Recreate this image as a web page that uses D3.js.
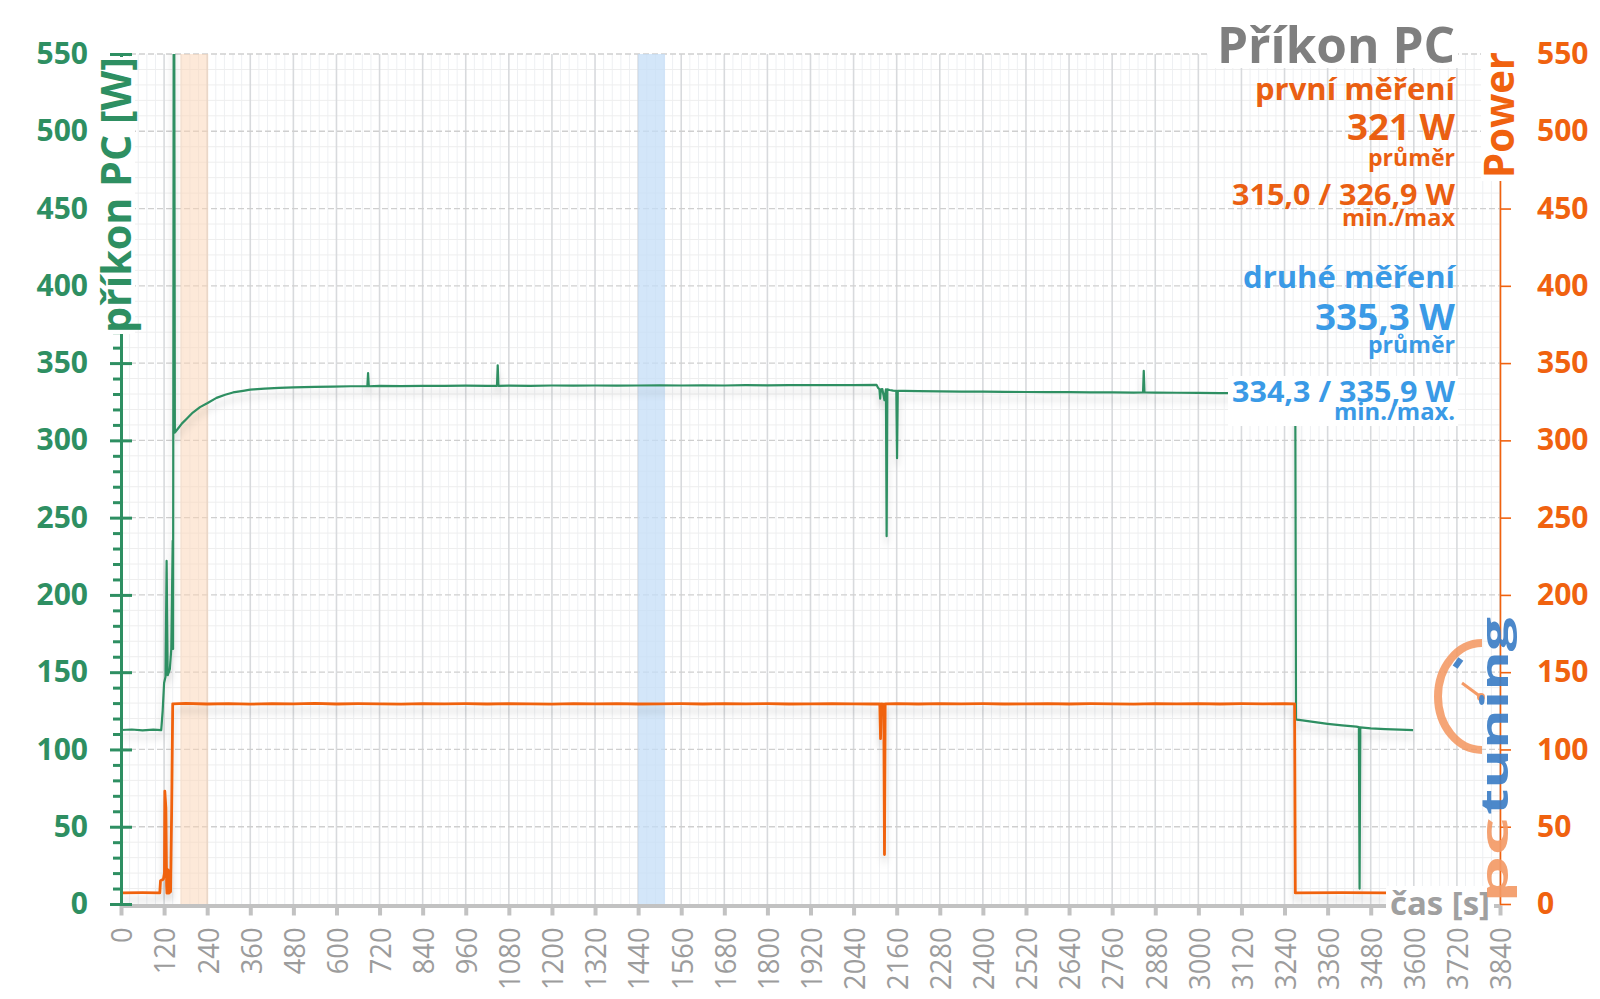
<!DOCTYPE html>
<html><head><meta charset="utf-8">
<script src="https://cdn.jsdelivr.net/npm/d3@7"></script>
<style>html,body{margin:0;padding:0;background:#fff;}svg{display:block;font-family:"Open Sans",sans-serif;}</style>
</head><body><svg id="c" width="1600" height="999"></svg>
<script>
// ---------------- data ----------------
const xTickLabels = ["0","120","240","360","480","600","720","840","960","1080","1200","1320","1440","1560","1680","1800","1920","2040","2160","2280","2400","2520","2640","2760","2880","3000","3120","3240","3360","3480","3600","3720","3840"];
const yTickValues = [0,50,100,150,200,250,300,350,400,450,500,550];

// příkon PC [W] (left axis), [time s, watts]
const greenPoints = [
 [0,112.6],[30,112.9],[60,112.4],[90,112.8],[112,112.5],[116,125],[120,143],[124,147],[127,222],[130,148],
 [136,152],[140,165],[144,235],[145,165],[147,620],[148,620],[150,305],[160,308],[170,311],[183,314],
 [200,318],[220,321.5],[240,324],[266,327.5],[290,329.5],[312,331],[340,332],[360,332.8],[400,333.5],[440,334],
 [480,334.3],[540,334.6],[590,334.8],[640,335],[686,335],[688,343.5],[690,335],[720,335.2],[780,335.1],[840,335.3],
 [900,335.2],[960,335.4],[1020,335.3],[1047,335.3],[1049,348.5],[1051,335.3],[1080,335.4],[1140,335.3],[1200,335.5],[1260,335.4],
 [1320,335.5],[1380,335.4],[1440,335.5],[1500,335.6],[1560,335.5],[1620,335.6],[1680,335.5],[1740,335.7],[1800,335.6],[1860,335.8],
 [1920,335.7],[1980,335.8],[2040,335.8],[2104,335.9],[2108,334],[2112,333],[2114,327],[2116,333],[2120,333.2],[2126,326],
 [2130,333],[2132,238],[2134,333],[2140,332.6],[2150,332.2],[2159,332],[2161,288.5],[2163,332],[2180,332],[2220,331.8],
 [2280,331.7],[2340,331.6],[2400,331.5],[2460,331.4],[2520,331.3],[2580,331.2],[2640,331.2],[2700,331.1],[2760,331],[2820,330.9],
 [2846,331],[2848,345],[2850,331],[2880,330.9],[2940,330.8],[3000,330.7],[3060,330.6],[3120,330.6],[3180,330.5],[3240,330.5],
 [3268,330.4],[3270,323],[3272,120],[3274,119.3],[3290,118.8],[3320,117.8],[3360,116.6],[3400,115.6],[3440,114.8],[3447,114.5],
 [3449,10],[3451,114.3],[3480,113.6],[3520,113.2],[3560,112.8],[3598,112.5]
];

// Power (right axis), [time s, watts]
const orangePoints = [
 [0,7.2],[60,7.3],[108,7.2],[110,15],[118,16],[121,20],[122,73],[125,62],[127,12],[128,7],
 [130,8],[131,22],[133,7],[138,8],[141,60],[142,82],[144,129.5],[180,129.8],[240,129.4],[300,129.7],
 [360,129.3],[420,129.6],[480,129.5],[540,129.8],[600,129.4],[660,129.6],[720,129.5],[780,129.3],[840,129.7],[900,129.5],
 [960,129.6],[1020,129.4],[1080,129.7],[1140,129.5],[1200,129.3],[1260,129.6],[1320,129.5],[1380,129.7],[1440,129.4],[1500,129.5],
 [1560,129.6],[1620,129.4],[1680,129.7],[1740,129.5],[1800,129.6],[1860,129.4],[1920,129.5],[1980,129.7],[2040,129.5],[2100,129.4],
 [2113,129.5],[2115,107],[2117,129.4],[2124,129.3],[2126,32],[2128,129.5],[2160,129.6],[2220,129.4],[2280,129.7],[2340,129.5],
 [2400,129.6],[2460,129.4],[2520,129.5],[2580,129.7],[2640,129.4],[2700,129.6],[2760,129.5],[2820,129.3],[2880,129.6],[2940,129.5],
 [3000,129.7],[3060,129.4],[3120,129.6],[3180,129.5],[3240,129.6],[3268,129.5],[3270,7.2],[3400,7.3],[3525,7.2]
];

const orangeBand = [165, 243];
const blueBand = [1440, 1515];

const titleText = "Příkon PC";
const firstLines = ["první měření","321 W","průměr","315,0 / 326,9 W","min./max"];
const secondLines = ["druhé měření","335,3 W","průměr","334,3 / 335,9 W","min./max."];

// ---------------- layout ----------------
const GREEN = "#2e8f62", ORANGE = "#f0620f", ORANGE_T = "#ea5f12", BLUE = "#3a9ae6", GREY = "#7f7f7f";
const X0 = 121, X1 = 1500, Y0 = 904, Y1 = 54;
const x = d3.scaleLinear([0, 3840], [X0, X1]);
const y = d3.scaleLinear([0, 550], [Y0, Y1]);
const svg = d3.select("#c");
svg.append("rect").attr("width",1600).attr("height",999).attr("fill","#fff");

const defs = svg.append("defs");
defs.append("clipPath").attr("id","plot").append("rect").attr("x",X0).attr("y",Y1).attr("width",X1-X0).attr("height",Y0-Y1);
const f = defs.append("filter").attr("id","sh").attr("filterUnits","userSpaceOnUse")
  .attr("x",0).attr("y",0).attr("width",1600).attr("height",999);
f.append("feDropShadow").attr("dx",0).attr("dy",7).attr("stdDeviation",3.5).attr("flood-color","#000").attr("flood-opacity",0.17);

// grid
const grid = svg.append("g");
d3.range(0, 3841, 24).filter(v => v % 120 !== 0).forEach(v => {
  grid.append("line").attr("x1",x(v)).attr("x2",x(v)).attr("y1",Y1).attr("y2",Y0).attr("stroke","#eef0f3").attr("stroke-width",1);
});
d3.range(0, 551, 10).filter(v => v % 50 !== 0).forEach(v => {
  grid.append("line").attr("x1",X0).attr("x2",X1).attr("y1",y(v)).attr("y2",y(v)).attr("stroke","#eeeeee").attr("stroke-width",1);
});
xTickLabels.forEach(s => {
  const v = +s; if (v === 0) return;
  grid.append("line").attr("x1",x(v)).attr("x2",x(v)).attr("y1",Y1).attr("y2",Y0).attr("stroke","#d8dadd").attr("stroke-width",1.6);
});
yTickValues.forEach(v => {
  if (v === 0) return;
  grid.append("line").attr("x1",X0).attr("x2",X1).attr("y1",y(v)).attr("y2",y(v)).attr("stroke","#cfcfcf").attr("stroke-width",1.3).attr("stroke-dasharray","6,3");
});

// bands
svg.append("rect").attr("x",x(orangeBand[0])).attr("y",Y1).attr("width",x(orangeBand[1])-x(orangeBand[0])).attr("height",Y0-Y1)
  .attr("fill","#fbd3b4").attr("opacity",0.5);
svg.append("rect").attr("x",x(blueBand[0])).attr("y",Y1).attr("width",x(blueBand[1])-x(blueBand[0])).attr("height",Y0-Y1)
  .attr("fill","#c4ddf7").attr("opacity",0.75);

// lines
const line = d3.line().x(d => x(d[0])).y(d => y(d[1]));
const plot = svg.append("g").attr("clip-path","url(#plot)");
plot.append("path").datum(greenPoints).attr("d",line).attr("fill","none").attr("stroke",GREEN)
  .attr("stroke-width",2.2).attr("stroke-linejoin","round").attr("filter","url(#sh)");
plot.append("path").datum(orangePoints).attr("d",line).attr("fill","none").attr("stroke",ORANGE)
  .attr("stroke-width",2.8).attr("stroke-linejoin","round").attr("filter","url(#sh)");

// x axis
const xAxis = svg.append("g").attr("transform",`translate(0,${Y0+1.5})`)
  .call(d3.axisBottom(x).tickValues(xTickLabels.map(Number)).tickSize(10).tickSizeOuter(0).tickFormat((d,i)=>xTickLabels[i]));
xAxis.select(".domain").attr("stroke","#c2c2c2").attr("stroke-width",4);
xAxis.selectAll(".tick line").attr("stroke","#c2c2c2").attr("stroke-width",4);
xAxis.selectAll(".tick text").attr("transform","rotate(-90)").attr("x",-22).attr("y",0).attr("dy","0.36em")
  .attr("text-anchor","end").attr("fill","#9c9c9c").attr("font-size",30).attr("font-family","Open Sans")
  .attr("textLength",function(){return this.textContent.length*15.6;}).attr("lengthAdjust","spacingAndGlyphs");

// left axis
const yMinor = d3.range(0, 551, 10).filter(v => v % 50 !== 0);
const lMinor = svg.append("g").attr("transform",`translate(${X0},0)`)
  .call(d3.axisLeft(y).tickValues(yMinor).tickSize(8).tickSizeOuter(0).tickFormat(""));
lMinor.select(".domain").remove();
lMinor.selectAll(".tick line").attr("stroke",GREEN).attr("stroke-width",3).attr("x2",-8).attr("x1",2);
const lAxis = svg.append("g").attr("transform",`translate(${X0},0)`)
  .call(d3.axisLeft(y).tickValues(yTickValues).tickSize(11).tickPadding(22).tickSizeOuter(0));
lAxis.select(".domain").attr("stroke",GREEN).attr("stroke-width",3);
lAxis.selectAll(".tick line").attr("stroke",GREEN).attr("stroke-width",3).attr("x1",11);
lAxis.selectAll(".tick text").attr("fill",GREEN).attr("font-size",30).attr("font-weight",700).attr("font-family","Open Sans");

// right axis
const rAxis = svg.append("g").attr("transform",`translate(${X1},0)`)
  .call(d3.axisRight(y).tickValues(yTickValues).tickSize(11).tickPadding(26).tickSizeOuter(0));
rAxis.select(".domain").attr("stroke",ORANGE).attr("stroke-width",1.6);
rAxis.selectAll(".tick line").attr("stroke",ORANGE).attr("stroke-width",1.6);
rAxis.selectAll(".tick text").attr("fill",ORANGE).attr("font-size",30).attr("font-weight",700).attr("font-family","Open Sans");

// axis titles
svg.append("rect").attr("x",93).attr("y",57).attr("width",42).attr("height",277).attr("fill","#fff");
svg.append("text").attr("transform","translate(131,195) rotate(-90)").attr("text-anchor","middle")
  .attr("fill",GREEN).attr("font-weight",700).attr("font-size",42)
  .attr("textLength",276).attr("lengthAdjust","spacingAndGlyphs").text("příkon PC [W]");
svg.append("rect").attr("x",1481).attr("y",50).attr("width",38).attr("height",131).attr("fill","#fff");
svg.append("text").attr("transform","translate(1514,178) rotate(-90)").attr("text-anchor","start")
  .attr("fill",ORANGE).attr("font-weight",700).attr("font-size",42)
  .attr("textLength",126).attr("lengthAdjust","spacingAndGlyphs").text("Power");
svg.append("rect").attr("x",1386).attr("y",886).attr("width",108).attr("height",38).attr("fill","#fff");
svg.append("text").attr("x",1490).attr("y",915).attr("text-anchor","end").attr("fill","#a0a0a0")
  .attr("font-weight",700).attr("font-size",33).attr("textLength",100).attr("lengthAdjust","spacingAndGlyphs").text("čas [s]");

// title + statistics
svg.append("rect").attr("x",1208).attr("y",22).attr("width",250).attr("height",46).attr("fill","#fff");
svg.append("rect").attr("x",1228).attr("y",376).attr("width",230).attr("height",50).attr("fill","#fff");
const RX = 1455;
function rt(txt, yb, size, len, color){
  svg.append("text").attr("x",RX).attr("y",yb).attr("text-anchor","end").attr("fill",color)
    .attr("font-weight",700).attr("font-size",size).attr("textLength",len).attr("lengthAdjust","spacingAndGlyphs").text(txt);
}
rt(titleText, 63, 50, 238, GREY);
const firstY = [100,140,166,205,226], secondY = [288,330,353,402,420];
const sizes = [31,36,23,29,24], lens1 = [200,108,87,223,113], lens2 = [212,140,87,223,121];
firstLines.forEach((t,i)=>rt(t, firstY[i], sizes[i], lens1[i], ORANGE_T));
secondLines.forEach((t,i)=>rt(t, secondY[i], sizes[i], lens2[i], BLUE));

// logo
const logo = svg.append("g").attr("opacity",0.92);
const arc = d3.path();
logo.append("path").attr("d", `M1482,643 A44,53.5 0 0 0 1482,750`).attr("fill","none")
  .attr("stroke","#f4925a").attr("stroke-width",8).attr("opacity",0.9);
logo.append("line").attr("x1",1462).attr("y1",683).attr("x2",1481).attr("y2",697).attr("stroke","#f4925a").attr("stroke-width",3);
logo.append("circle").attr("cx",1481).attr("cy",697).attr("r",4).attr("fill","#f4925a");
logo.append("rect").attr("x",1455).attr("y",658).attr("width",6).attr("height",10).attr("fill","#3c7ec6")
  .attr("transform","rotate(35,1458,663)");
logo.append("text").attr("transform","translate(1508,903) rotate(-90)").attr("fill","#f39a66")
  .attr("font-weight",700).attr("font-size",38).attr("textLength",86).attr("lengthAdjust","spacingAndGlyphs").text("pc");
logo.append("text").attr("transform","translate(1508,815) rotate(-90)").attr("fill","#3c7ec6")
  .attr("font-weight",700).attr("font-size",38).attr("textLength",198).attr("lengthAdjust","spacingAndGlyphs").text("tuning");
</script></body></html>
